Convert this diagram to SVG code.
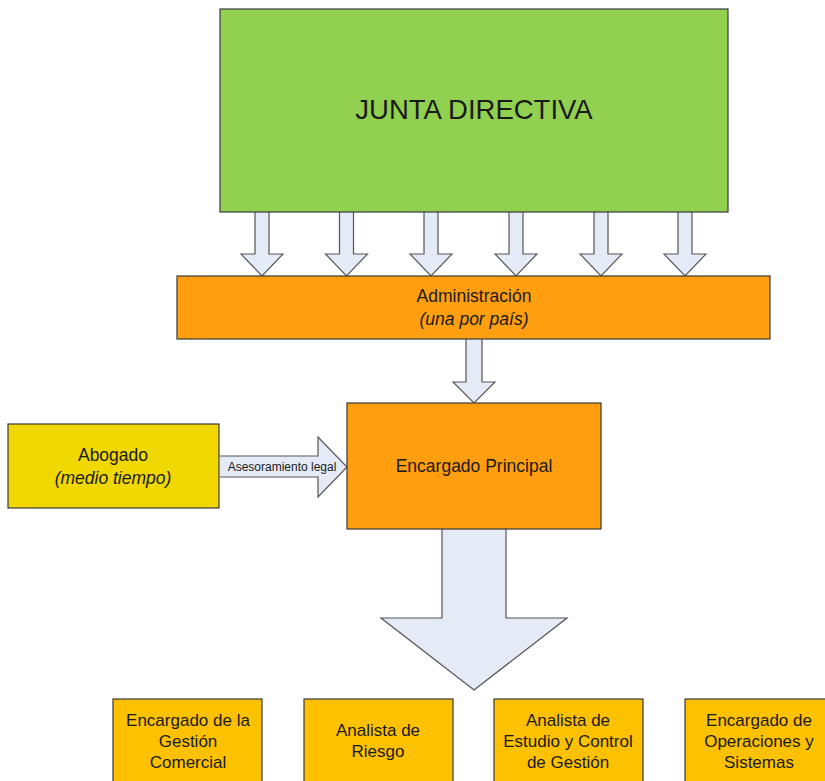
<svg xmlns="http://www.w3.org/2000/svg" width="825" height="781" viewBox="0 0 825 781">
<style>
text{font-family:"Liberation Sans",Arial,sans-serif;fill:#1a1a1a;text-anchor:middle}
.box{stroke:#3a3a3a;stroke-width:1.2}
.arr{fill:#E4EAF6;stroke:#555;stroke-width:1.2;stroke-linejoin:miter}
.t{font-size:17.5px}
.b{font-size:17px}
.i{font-style:italic}
</style>
<rect width="825" height="781" fill="#fff"/>
<g id="connectors">
<path class="arr" d="M255,212 V254 H241 L262,276 L283,254 H269 V212"/>
<path class="arr" d="M339.5,212 V254 H325.5 L346.5,276 L367.5,254 H353.5 V212"/>
<path class="arr" d="M424,212 V254 H410 L431,276 L452,254 H438 V212"/>
<path class="arr" d="M509,212 V254 H495 L516,276 L537,254 H523 V212"/>
<path class="arr" d="M594,212 V254 H580 L601,276 L622,254 H608 V212"/>
<path class="arr" d="M678,212 V254 H664 L685,276 L706,254 H692 V212"/>
<path class="arr" d="M466,339 V382 H453 L474,403 L495,382 H482 V339"/>
<path class="arr" d="M220,456 H318 V437 L347,467 L318,497 V477 H220"/>
<text x="282" y="471" style="font-size:12px">Asesoramiento legal</text>
<path class="arr" d="M442,529 V618 H381 L474,690 L567,618 H506 V529"/>
</g>
<g id="junta">
<rect class="box" x="220" y="9" width="508" height="203" fill="#92D050"/>
<text x="474" y="119" style="font-size:27.5px">JUNTA DIRECTIVA</text>
</g>
<g id="administracion">
<rect class="box" x="177" y="276" width="593" height="63" fill="#FF9E0F"/>
<text class="t" x="474" y="302">Administración</text>
<text class="t i" x="474" y="325">(una por país)</text>
</g>
<g id="encargado-principal">
<rect class="box" x="347" y="403" width="254" height="126" fill="#FF9E0F"/>
<text class="t" x="474" y="472">Encargado Principal</text>
</g>
<g id="abogado">
<rect class="box" x="8" y="424" width="211" height="84" fill="#F0D800"/>
<text class="t" x="113" y="461">Abogado</text>
<text class="t i" x="113" y="484">(medio tiempo)</text>
</g>
<g id="gestion-comercial">
<rect class="box" x="113" y="699" width="149" height="90" fill="#FDC100"/>
<text class="b" x="188" y="726">Encargado de la</text>
<text class="b" x="188" y="747">Gestión</text>
<text class="b" x="188" y="768">Comercial</text>
</g>
<g id="analista-riesgo">
<rect class="box" x="304" y="699" width="149" height="90" fill="#FDC100"/>
<text class="b" x="378" y="736">Analista de</text>
<text class="b" x="378" y="757">Riesgo</text>
</g>
<g id="analista-estudio">
<rect class="box" x="494" y="699" width="149" height="90" fill="#FDC100"/>
<text class="b" x="568" y="726">Analista de</text>
<text class="b" x="568" y="747">Estudio y Control</text>
<text class="b" x="568" y="768">de Gestión</text>
</g>
<g id="operaciones-sistemas">
<rect class="box" x="685" y="699" width="149" height="90" fill="#FDC100"/>
<text class="b" x="759" y="726">Encargado de</text>
<text class="b" x="759" y="747">Operaciones y</text>
<text class="b" x="759" y="768">Sistemas</text>
</g>
</svg>
